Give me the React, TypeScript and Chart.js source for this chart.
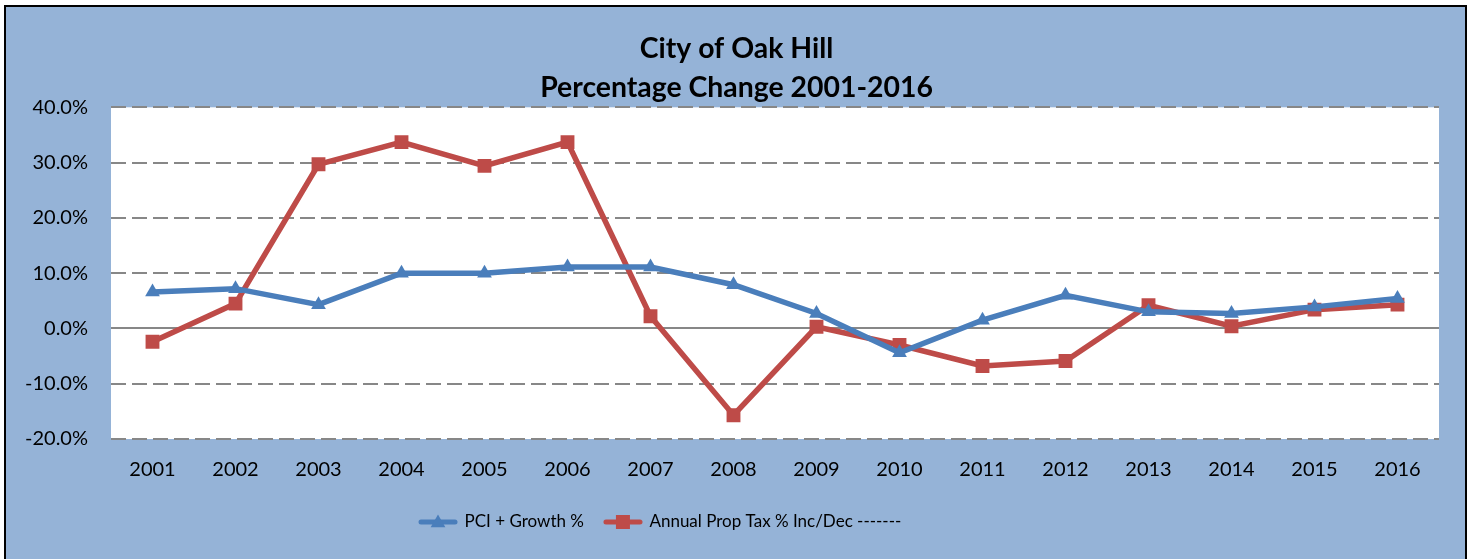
import { useEffect, useRef } from 'react';
import { Chart, registerables } from 'chart.js';

Chart.register(...registerables);

const years = ['2001', '2002', '2003', '2004', '2005', '2006', '2007', '2008', '2009', '2010', '2011', '2012', '2013', '2014', '2015', '2016'];
const pciGrowth = [6.6, 7.2, 4.3, 10.0, 10.0, 11.1, 11.1, 7.9, 2.7, -4.4, 1.5, 6.0, 3.0, 2.7, 3.9, 5.4];
const propTax = [-2.4, 4.5, 29.7, 33.7, 29.4, 33.7, 2.2, -15.7, 0.3, -3.0, -6.8, -5.9, 4.2, 0.4, 3.4, 4.3];
const seriesNames = ['PCI + Growth %', 'Annual Prop Tax % Inc/Dec -------'];
const titleLines = ['City of Oak Hill', 'Percentage Change 2001-2016'];
const yMin = -20;
const yMax = 40;
const yStep = 10;

const BLUE = '#4A7EBB';
const RED = '#BE4B48';
const BG = '#95B3D7';
const FONT = 'Lato';
const LEGEND_PAD = 21;

function makeIcon(color: string, kind: 'triangle' | 'rect'): HTMLCanvasElement {
  const c = document.createElement('canvas');
  c.width = 40;
  c.height = 20;
  const g = c.getContext('2d')!;
  g.strokeStyle = color;
  g.lineWidth = 5;
  g.lineCap = 'round';
  g.beginPath();
  g.moveTo(3, 10);
  g.lineTo(37, 10);
  g.stroke();
  g.fillStyle = color;
  if (kind === 'triangle') {
    const r = 8.5;
    g.beginPath();
    g.moveTo(20, 11 - r);
    g.lineTo(20 + r * Math.sqrt(3) / 2, 11 + r / 2);
    g.lineTo(20 - r * Math.sqrt(3) / 2, 11 + r / 2);
    g.closePath();
    g.fill();
  } else {
    g.fillRect(20 - 7, 10 - 7, 14, 14);
  }
  return c;
}

const backgroundPlugin = {
  id: 'bgPlugin',
  beforeDraw(chart: any) {
    const { ctx, width, height, chartArea } = chart;
    ctx.save();
    ctx.fillStyle = '#ffffff';
    ctx.fillRect(0, 0, width, height);
    ctx.fillStyle = BG;
    ctx.fillRect(5, 6, 1461, height);
    ctx.strokeStyle = '#000000';
    ctx.lineWidth = 2;
    ctx.strokeRect(5, 6, 1461, height + 10);
    ctx.fillStyle = '#ffffff';
    ctx.fillRect(chartArea.left, chartArea.top, chartArea.right - chartArea.left, chartArea.bottom - chartArea.top);
    ctx.restore();
  },
  afterLayout(chart: any) {
    const lg = chart.legend;
    if (lg) {
      const pad = lg.options.labels.padding;
      lg.left = 420 - pad;
      lg.right = lg.left + lg.width;
    }
    const tb = chart.titleBlock;
    if (tb) {
      tb.left = 34;
    }
  },
};

export default function App() {
  const ref = useRef<HTMLCanvasElement | null>(null);
  useEffect(() => {
    if (!ref.current) return;
    const icons = [makeIcon(BLUE, 'triangle'), makeIcon(RED, 'rect')];
    const chart = new Chart(ref.current, {
      type: 'line',
      data: {
        labels: years,
        datasets: [
          {
            label: seriesNames[0],
            data: pciGrowth,
            borderColor: BLUE,
            backgroundColor: BLUE,
            borderWidth: 5.5,
            pointStyle: 'triangle',
            pointRadius: 8.5,
            pointBorderWidth: 0,
            pointBackgroundColor: BLUE,
            tension: 0,
          },
          {
            label: seriesNames[1],
            data: propTax,
            borderColor: RED,
            backgroundColor: RED,
            borderWidth: 5.5,
            pointStyle: 'rect',
            pointRadius: 9.8,
            pointBorderWidth: 0,
            pointBackgroundColor: RED,
            tension: 0,
          },
        ],
      },
      options: {
        responsive: false,
        animation: false,
        devicePixelRatio: 1,
        layout: { padding: { left: 0, right: 34, top: 10, bottom: 18.5 } },
        plugins: {
          tooltip: { enabled: false },
          title: {
            display: true,
            text: titleLines,
            color: '#000000',
            font: { family: FONT, size: 28.4, weight: 'bold', lineHeight: 1.37 },
            padding: { top: 19.5, bottom: 0 },
          },
          legend: {
            display: true,
            position: 'bottom',
            align: 'start',
            labels: {
              color: '#000000',
              font: { family: FONT, size: 17 },
              usePointStyle: true,
              pointStyleWidth: 36,
              boxHeight: 17,
              padding: LEGEND_PAD,
              generateLabels: (ch: any) => {
                const items = (Chart as any).defaults.plugins.legend.labels.generateLabels(ch);
                items.forEach((it: any, i: number) => {
                  it.pointStyle = icons[i];
                });
                return items;
              },
            },
          },
        },
        scales: {
          x: {
            offset: true,
            grid: { display: false, drawTicks: false },
            border: { display: false },
            ticks: { color: '#000000', font: { family: FONT, size: 20 }, padding: 18.5 },
            afterFit: (s: any) => {
              s.height = 74.5 - LEGEND_PAD;
            },
          },
          y: {
            min: yMin,
            max: yMax,
            ticks: {
              stepSize: yStep,
              color: '#000000',
              font: { family: FONT, size: 20 },
              padding: 23,
              callback: (v: any) => Number(v).toFixed(1) + '%',
            },
            grid: {
              color: '#878787',
              lineWidth: 2,
              drawTicks: false,
            },
            border: {
              display: false,
              dash: (ctx: any) => (ctx.tick && ctx.tick.value === 0 ? [] : [15, 6]),
            },
            afterFit: (s: any) => {
              s.width = 111;
            },
          },
        },
      },
      plugins: [backgroundPlugin],
    });
    return () => chart.destroy();
  }, []);
  return (
    <div style={{ position: 'absolute', left: 0, top: 0, width: 1473, height: 559 }}>
      <canvas ref={ref} width={1473} height={559} style={{ display: 'block' }} />
    </div>
  );
}
